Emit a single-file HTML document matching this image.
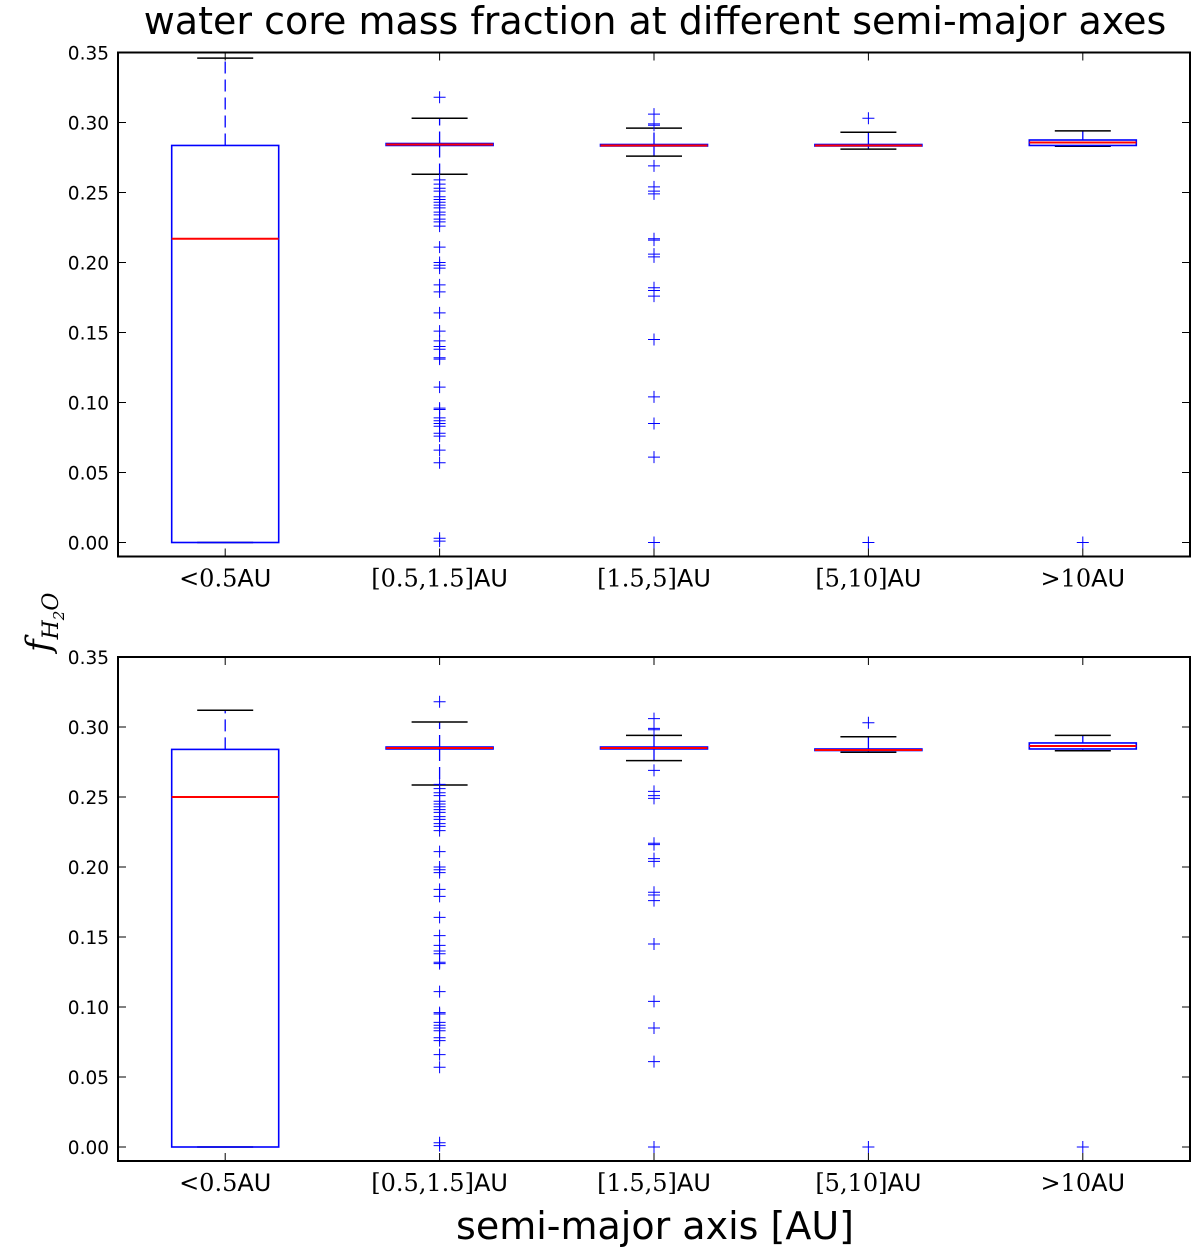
<!DOCTYPE html>
<html><head><meta charset="utf-8"><style>
body{margin:0;background:#fff;width:1200px;height:1255px;overflow:hidden}
svg text{font-family:"DejaVu Sans","Liberation Sans",sans-serif}
</style></head><body>
<svg id="chart" width="1200" height="1255" xmlns="http://www.w3.org/2000/svg">
<text x="655" y="34" font-size="38" text-anchor="middle">water core mass fraction at different semi-major axes</text>
<text x="655" y="1239" font-size="38" text-anchor="middle">semi-major axis [AU]</text>
<g transform="translate(50,652) rotate(-90)"><text font-family="DejaVu Serif, serif" font-style="italic" font-size="34" x="0" y="0" style="font-family:'DejaVu Serif',serif">f<tspan font-size="22" dy="8">H</tspan><tspan font-size="15" dy="6">2</tspan><tspan font-size="22" dy="-6">O</tspan></text></g>
</svg>
<script>
const categories=["<0.5","[0.5,1.5]","[1.5,5]","[5,10]",">10"];
const yTicks=[0,0.05,0.10,0.15,0.20,0.25,0.30,0.35];
const yTickLabels=["0.00","0.05","0.10","0.15","0.20","0.25","0.30","0.35"];
// [lowCap, q1, median, q3, highCap]
const topStats=[[0,0,0.217,0.2836,0.346],[0.263,0.2836,0.2843,0.285,0.303],[0.276,0.2832,0.2836,0.2843,0.296],[0.281,0.2832,0.2836,0.2843,0.293],[0.283,0.2836,0.2857,0.2875,0.294]];
const botStats=[[0,0,0.25,0.284,0.312],[0.2586,0.2843,0.285,0.2857,0.3036],[0.276,0.2843,0.285,0.2857,0.294],[0.282,0.2832,0.2836,0.2843,0.293],[0.283,0.2843,0.2864,0.2886,0.294]];
const fliersG2=[0.318,0.259,0.256,0.253,0.251,0.247,0.245,0.243,0.241,0.239,0.236,0.234,0.231,0.229,0.226,0.211,0.2,0.198,0.196,0.184,0.179,0.164,0.151,0.144,0.14,0.138,0.132,0.131,0.111,0.096,0.095,0.089,0.087,0.085,0.083,0.078,0.076,0.066,0.057,0.001,0.003];
const fliersG3=[0.306,0.299,0.298,0.269,0.254,0.251,0.249,0.217,0.216,0.206,0.204,0.182,0.18,0.176,0.145,0.104,0.085,0.061,0];
const fliersG4=[0.303,0];
const fliersG5=[0];
const topFliers=[[],fliersG2,fliersG3,fliersG4,fliersG5];
const botFliers=[[],fliersG2,fliersG3,fliersG4,fliersG5];

const svg=document.getElementById('chart');
const NS='http://www.w3.org/2000/svg';
function mk(tag,attrs,parent){const e=document.createElementNS(NS,tag);for(const k in attrs)e.setAttribute(k,attrs[k]);(parent||svg).appendChild(e);return e;}
const X0=118,X1=1190,ymin=-0.01,ymax=0.35;
function xPos(i){return X0+(X1-X0)*(i+0.5)/categories.length;}
function panel(top,stats,fliers,pname){
  const bot=top+504;
  const y=v=>bot-(v-ymin)/(ymax-ymin)*(bot-top);
  const g=mk('g',{});
  
  
  yTicks.forEach((t,k)=>{
    const yy=y(t);
    const l=mk('line',{x1:X0,x2:X0+8,y1:yy,y2:yy,stroke:'#000','stroke-width':1},g);
    
    
    mk('line',{x1:X1-8,x2:X1,y1:yy,y2:yy,stroke:'#000','stroke-width':1},g);
    const tx=mk('text',{x:X0-9,y:yy+7,'font-size':18.5,'text-anchor':'end'},g);
    tx.textContent=yTickLabels[k];
    
    
  });
  categories.forEach((c,i)=>{
    const cx=xPos(i),s=stats[i];
    mk('line',{x1:cx,x2:cx,y1:bot,y2:bot-8,stroke:'#000'},g);
    mk('line',{x1:cx,x2:cx,y1:top,y2:top+8,stroke:'#000'},g);
    const lab=mk('text',{x:cx,y:bot+30,'font-size':24,'text-anchor':'middle'},g);
    
    
    const t1=mk('tspan',{'font-family':'DejaVu Serif, serif',style:"font-family:'DejaVu Serif',serif"},lab);t1.textContent=c;
    const t2=mk('tspan',{},lab);t2.textContent='AU';
    const bg=mk('g',{},g);
    
    
    mk('line',{x1:cx,x2:cx,y1:y(s[3]),y2:y(s[4]),stroke:'#0000ff','stroke-width':1.3,'stroke-dasharray':'12,6'},bg);
    mk('line',{x1:cx,x2:cx,y1:y(s[1]),y2:y(s[0]),stroke:'#0000ff','stroke-width':1.3,'stroke-dasharray':'12,6'},bg);
    mk('line',{x1:cx-28,x2:cx+28,y1:y(s[4]),y2:y(s[4]),stroke:'#000','stroke-width':1.5},bg);
    mk('line',{x1:cx-28,x2:cx+28,y1:y(s[0]),y2:y(s[0]),stroke:'#000','stroke-width':1.5},bg);
    const h=Math.max(y(s[1])-y(s[3]),0.5);
    mk('rect',{x:cx-53.5,y:y(s[3]),width:107,height:h,fill:'none',stroke:'#0000ff','stroke-width':1.6},bg);
    mk('line',{x1:cx-53.5,x2:cx+53.5,y1:y(s[2]),y2:y(s[2]),stroke:'#ff0000','stroke-width':2},bg);
    fliers[i].forEach(v=>{
      const fy=y(v);
      const p=mk('path',{d:`M${cx-6},${fy}H${cx+6}M${cx},${fy-6}V${fy+6}`,stroke:'#0000ff','stroke-width':1,fill:'none'},bg);
      
      
    });
  });
  const fr=mk('rect',{x:X0,y:top,width:X1-X0,height:bot-top,fill:'none',stroke:'#000','stroke-width':2},g);
  
  
}
panel(52.5,topStats,topFliers,'top-panel');
panel(657,botStats,botFliers,'bottom-panel');
</script>
</body></html>
